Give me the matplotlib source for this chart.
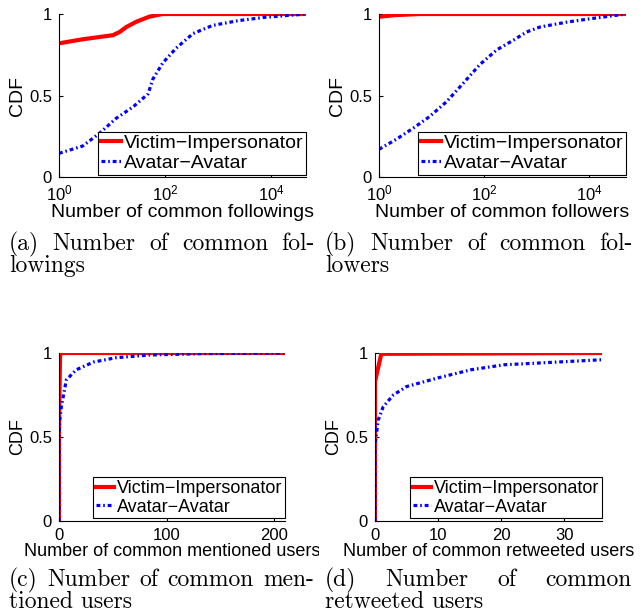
import matplotlib
matplotlib.use('Agg')
import matplotlib.pyplot as plt
from matplotlib.transforms import Bbox, TransformedBbox

plt.rcParams['font.family'] = ['Liberation Sans', 'DejaVu Sans']
plt.rcParams['mathtext.fontset'] = 'custom'
plt.rcParams['mathtext.rm'] = 'Liberation Sans'
plt.rcParams['mathtext.it'] = 'Liberation Sans:italic'

W, H = 641, 614

series_names = ['Victim\u2212Impersonator', 'Avatar\u2212Avatar']

# (a) common followings (log x)
fol_vi_x = [1, 2.8, 10.4, 14, 18.6, 29, 51, 91, 46000]
fol_vi_y = [0.82, 0.845, 0.87, 0.89, 0.92, 0.953, 0.984, 1.0, 1.0]
fol_aa_x = [1, 2.8, 5.9, 12, 25, 48, 59, 91, 162, 339, 794, 2512, 7943, 46000]
fol_aa_y = [0.145, 0.19, 0.27, 0.36, 0.43, 0.51, 0.60, 0.70, 0.79, 0.88, 0.93, 0.96, 0.98, 1.0]

# (b) common followers (log x)
fwr_vi_x = [1, 2, 6, 50000]
fwr_vi_y = [0.983, 0.993, 1.0, 1.0]
fwr_aa_x = [1, 2.1, 4.5, 9.1, 19, 40, 83, 174, 363, 646, 1148, 3715, 10000, 50000]
fwr_aa_y = [0.17, 0.23, 0.30, 0.37, 0.46, 0.575, 0.69, 0.78, 0.84, 0.89, 0.92, 0.95, 0.97, 1.0]

# (c) common mentioned users
men_vi_x = [0, 0, 1, 3, 210]
men_vi_y = [0, 0.6, 0.99, 1.0, 1.0]
men_aa_x = [0, 0, 1, 2.2, 6.8, 16, 32, 53, 84, 131, 210]
men_aa_y = [0, 0.5, 0.62, 0.68, 0.84, 0.90, 0.946, 0.972, 0.988, 0.996, 1.0]

# (d) common retweeted users
ret_vi_x = [0, 0, 1, 36]
ret_vi_y = [0, 0.83, 0.995, 1.0]
ret_aa_x = [0, 0, 0.5, 1.3, 2.9, 5, 9.8, 15.2, 20.5, 25.8, 36]
ret_aa_y = [0, 0.45, 0.6, 0.68, 0.75, 0.80, 0.85, 0.90, 0.93, 0.94, 0.96]

panels = [
    # left, top, right, bottom (px), log?, xlim, xticks, xticklabels, xlabel, data, text size
    ((59, 14, 306, 177), True, (1, 46000), [1, 100, 10000], None,
     'Number of common followings', (fol_vi_x, fol_vi_y, fol_aa_x, fol_aa_y), 14),
    ((379, 14, 626, 177), True, (1, 50000), [1, 100, 10000], None,
     'Number of common followers', (fwr_vi_x, fwr_vi_y, fwr_aa_x, fwr_aa_y), 14),
    ((59, 353, 285, 521), False, (0, 210), [0, 100, 200], ['0', '100', '200'],
     'Number of common mentioned users', (men_vi_x, men_vi_y, men_aa_x, men_aa_y), 13),
    ((375, 353, 602, 521), False, (0, 36), [0, 10, 20, 30], ['0', '10', '20', '30'],
     'Number of common retweeted users', (ret_vi_x, ret_vi_y, ret_aa_x, ret_aa_y), 13),
]

fig = plt.figure(figsize=(W / 100, H / 100), dpi=100)

axes = []
for rect, logx, xlim, xticks, xtl, xlabel, data, fs in panels:
    l, t, r, b = rect
    ax = fig.add_axes([l / W, 1 - b / H, (r - l) / W, (b - t) / H])
    vx, vy, ax_, ay = data
    ax.plot(vx, vy, color='red', lw=3, label=series_names[0])
    ax.plot(ax_, ay, color='blue', lw=2.3, dashes=(1.2, 0.9, 0.5, 0.9),
            label=series_names[1])
    if logx:
        ax.set_xscale('log')
    ax.set_xlim(xlim)
    ax.set_ylim(0, 1)
    ax.set_xticks(xticks)
    ax.minorticks_off()
    if xtl is not None:
        ax.set_xticklabels(xtl)
    ax.set_yticks([0, 0.5, 1])
    ax.set_yticklabels(['0', '0.5', '1'])
    ax.tick_params(direction='in', length=3, width=0.8, pad=5, labelsize=12)
    ax.spines['top'].set_visible(False)
    ax.spines['right'].set_visible(False)
    for s in ('left', 'bottom'):
        ax.spines[s].set_linewidth(0.8)
    ax.set_xlabel(xlabel, fontsize=fs, labelpad=0)
    ax.set_ylabel('CDF', fontsize=fs, labelpad=2)
    leg = ax.legend(loc='lower right', bbox_to_anchor=(1.0, 0.015), borderaxespad=0,
                    fontsize=fs, handlelength=1.0, handletextpad=0.15, borderpad=0.15,
                    labelspacing=0.1, fancybox=False, framealpha=1, edgecolor='black')
    leg.get_frame().set_linewidth(0.8)
    axes.append(ax)

# x-label of (c) is cut at the subfigure edge
clip = TransformedBbox(Bbox([[0, 0], [319 / W, 1]]), fig.transFigure)
axes[2].xaxis.label.set_clip_box(clip)
axes[2].xaxis.label.set_clip_on(True)

cap_size = 17


def justify(words, x0, x1, y):
    txts = [fig.text(x0 / W, 1 - y / H, w, fontsize=cap_size, family='cmr10',
                     va='baseline') for w in words]
    rend = fig.canvas.get_renderer()
    widths = [tx.get_window_extent(rend).width for tx in txts]
    gap = (x1 - x0 - sum(widths)) / (len(words) - 1)
    x = x0
    for tx, w in zip(txts, widths):
        tx.set_x(x / W)
        x += w + gap


def plain(s, x0, y):
    fig.text(x0 / W, 1 - y / H, s, fontsize=cap_size, family='cmr10', va='baseline')


justify(['(a)', 'Number', 'of', 'common', 'fol-'], 9, 315, 250)
plain('lowings', 9, 272)
justify(['(b)', 'Number', 'of', 'common', 'fol-'], 325, 633, 250)
plain('lowers', 325, 272)
justify(['(c)', 'Number', 'of', 'common', 'men-'], 9, 314, 586)
plain('tioned users', 9, 608)
justify(['(d)', 'Number', 'of', 'common'], 325, 632, 586)
plain('retweeted users', 325, 608)

fig.savefig('out.png', dpi=100)
